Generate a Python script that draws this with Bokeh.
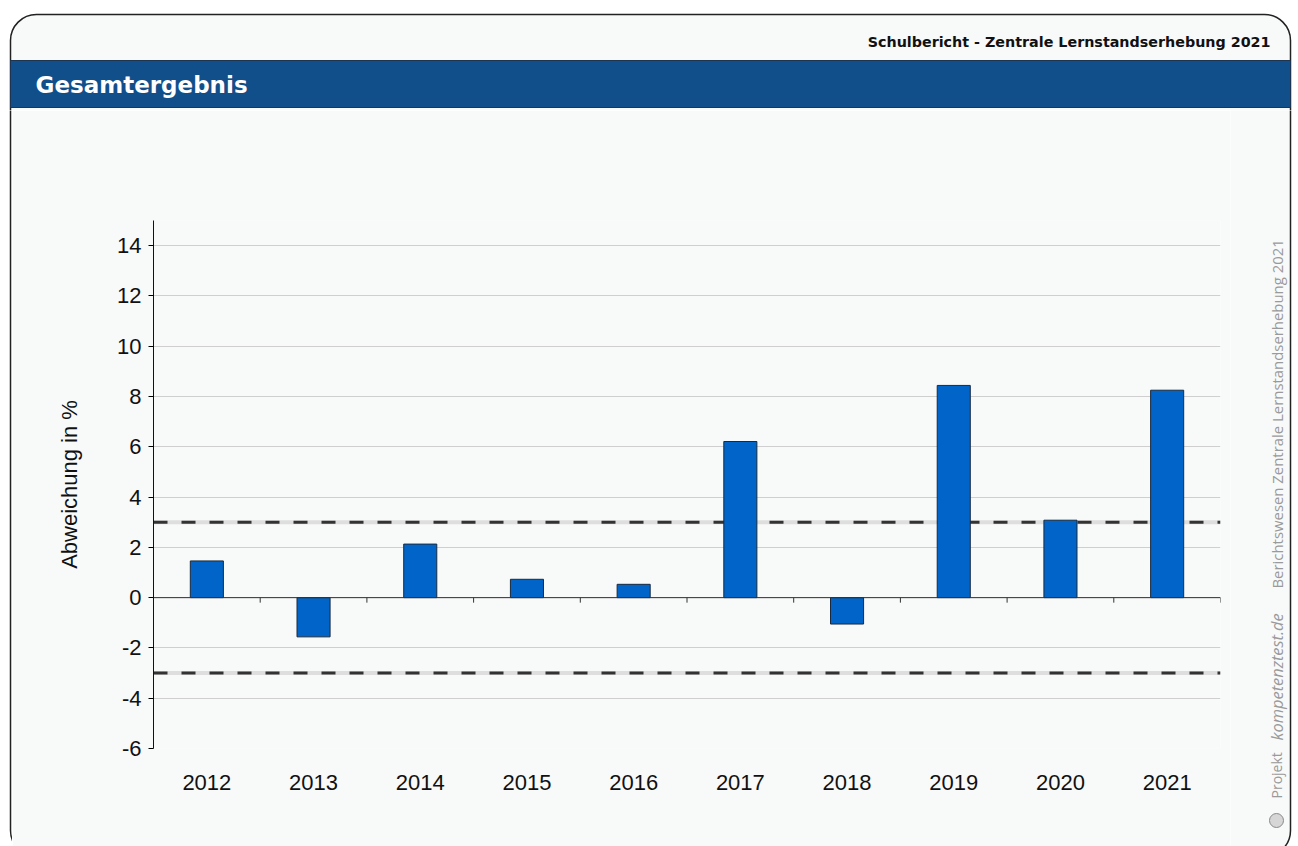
import math
from bokeh.plotting import figure
from bokeh.layouts import column, row
from bokeh.models import BoxAnnotation, Label, Span, FixedTicker, Range1d
from bokeh.embed import file_html
from bokeh.resources import INLINE

# ---- data ----
years = ["2012", "2013", "2014", "2015", "2016", "2017", "2018", "2019", "2020", "2021"]
values = [1.46, -1.56, 2.13, 0.73, 0.53, 6.21, -1.05, 8.44, 3.08, 8.25]
thresholds = [3, -3]
y_ticks = [-6, -4, -2, 0, 2, 4, 6, 8, 10, 12, 14]
y_tick_labels = ["-6", "-4", "-2", "0", "2", "4", "6", "8", "10", "12", "14"]
y_min, y_max = -6, 15

header_right = "Schulbericht - Zentrale Lernstandserhebung 2021"
header_title = "Gesamtergebnis"
side_text = "Berichtswesen Zentrale Lernstandserhebung 2021"
side_proj = "Projekt"
side_site = "kompetenztest.de"
y_label = "Abweichung in %"

# ---- page geometry (pixels) ----
W, H = 1298, 846
HEAD_H = 110          # header strip height
LEFT_W = 12           # left strip width
RIGHT_X = 1230        # right strip starts here
FL, FR, FT, FB = 153, 1220, 220, 748   # plot frame
CARD_L, CARD_R, CARD_T, CARD_B = 10, 1290, 14, 856
BAND_T, BAND_B = 60, 107
CARD_FILL = "#f8f9f9"
CARD_LINE = "#222222"
RADIUS = 26


def deco_fig(w, h):
    f = figure(width=w, height=h, output_backend="svg", toolbar_location=None,
               x_range=Range1d(0, w), y_range=Range1d(h, 0),
               x_axis_location=None, y_axis_location=None, min_border=0,
               frame_align=False)
    f.grid.visible = False
    f.outline_line_color = None
    f.border_fill_color = "white"
    f.background_fill_color = "white"
    return f


def card_box(x0, y0):
    # card rectangle in local coordinates of a strip starting at page (x0, y0)
    return BoxAnnotation(left=CARD_L - x0, right=CARD_R - x0, top=CARD_T - y0,
                         bottom=CARD_B - y0, fill_color=CARD_FILL, fill_alpha=1,
                         line_color=CARD_LINE, line_alpha=1, line_width=1.5,
                         border_radius=RADIUS, level="underlay")


# ---- header ----
head = deco_fig(W, HEAD_H)
head.add_layout(card_box(0, 0))
head.add_layout(BoxAnnotation(left=CARD_L, right=CARD_R, top=BAND_T, bottom=BAND_B,
                              fill_color="#114f8b", fill_alpha=1, line_color="#1d3550",
                              line_alpha=1, line_width=1, level="underlay"))
head.add_layout(Label(x=1270, y=41, text=header_right, text_align="right",
                      text_baseline="middle", text_font="DejaVu Sans",
                      text_font_style="bold", text_font_size="14.3px",
                      text_color="#111111"))
head.add_layout(Label(x=35, y=84, text=header_title, text_align="left",
                      text_baseline="middle", text_font="DejaVu Sans",
                      text_font_style="bold", text_font_size="23px", text_color="white"))

body_h = H - HEAD_H

# ---- left strip ----
left = deco_fig(LEFT_W, body_h)
left.add_layout(card_box(0, HEAD_H))

# ---- right strip ----
right_w = W - RIGHT_X
right = deco_fig(right_w, body_h)
right.add_layout(card_box(RIGHT_X, HEAD_H))
side = dict(angle=math.pi / 2, text_align="left", text_baseline="middle",
            text_font="Open Sans", text_color="#9a9a9a")
right.add_layout(Label(x=1276 - RIGHT_X, y=588 - HEAD_H, text=side_text,
                       text_font_size="14.9px", **side))
right.add_layout(Label(x=1276 - RIGHT_X, y=798 - HEAD_H, text=side_proj,
                       text_font_size="14px", **side))
right.add_layout(Label(x=1276 - RIGHT_X, y=740 - HEAD_H, text=side_site,
                       text_font_style="italic", text_font_size="16.4px", **side))
right.add_layout(BoxAnnotation(left=1269 - RIGHT_X, right=1283 - RIGHT_X,
                               top=813 - HEAD_H, bottom=827 - HEAD_H,
                               fill_color="#d6d6d6", fill_alpha=1, line_color="#8a8a8a",
                               line_alpha=1, line_width=1, border_radius=7))

# ---- main chart ----
n = len(years)
centers = [i + 0.5 for i in range(n)]
bounds = [i + 1 for i in range(n)]
main_w = RIGHT_X - LEFT_W

p = figure(width=main_w, height=body_h, output_backend="svg", toolbar_location=None,
           x_range=Range1d(0, n), y_range=Range1d(y_min, y_max),
           min_border_left=FL - LEFT_W, min_border_right=RIGHT_X - FR,
           min_border_top=FT - HEAD_H, min_border_bottom=H - FB, frame_align=False)
p.border_fill_color = CARD_FILL
p.background_fill_color = CARD_FILL
p.outline_line_color = None

p.xgrid.visible = False
p.ygrid.ticker = FixedTicker(ticks=y_ticks)
p.ygrid.grid_line_color = "#cfcfcf"
p.ygrid.grid_line_width = 1

for t in thresholds:
    p.add_layout(Span(location=t, dimension="width", line_color="#dedede",
                      line_width=4, level="underlay"))
    p.add_layout(Span(location=t, dimension="width", line_color="#333333",
                      line_width=3, line_dash="14 14", level="underlay"))

p.vbar(x=centers, top=values, bottom=0, width=0.31, fill_color="#0064c8",
       line_color="#1a2a3e", line_width=1)

p.add_layout(Span(location=0, dimension="width", line_color="#333333", line_width=1))
p.segment(x0=bounds, y0=[0] * n, x1=bounds, y1=[-0.2] * n, line_color="#333333",
          line_width=1)

xa = p.xaxis[0]
xa.ticker = FixedTicker(ticks=centers)
xa.major_label_overrides = {c: y for c, y in zip(centers, years)}
xa.axis_line_color = None
xa.major_tick_line_color = None
xa.minor_tick_line_color = None
xa.major_label_standoff = 20
xa.major_label_text_font = "Liberation Sans"
xa.major_label_text_font_size = "22px"
xa.major_label_text_color = "#111111"

ya = p.yaxis[0]
ya.ticker = FixedTicker(ticks=y_ticks)
ya.major_label_overrides = {v: s for v, s in zip(y_ticks, y_tick_labels)}
ya.axis_line_color = "#111111"
ya.major_tick_out = 5
ya.major_tick_in = 0
ya.minor_tick_line_color = None
ya.major_label_standoff = 7
ya.major_label_text_font = "Liberation Sans"
ya.major_label_text_font_size = "22px"
ya.major_label_text_color = "#111111"
ya.axis_label = y_label
ya.axis_label_text_font = "Liberation Sans"
ya.axis_label_text_font_size = "22px"
ya.axis_label_text_font_style = "normal"
ya.axis_label_text_color = "#111111"
ya.axis_label_standoff = 32

layout = column(head, row(left, p, right, spacing=0), spacing=0)
open("out.html", "w").write(file_html(layout, INLINE))
